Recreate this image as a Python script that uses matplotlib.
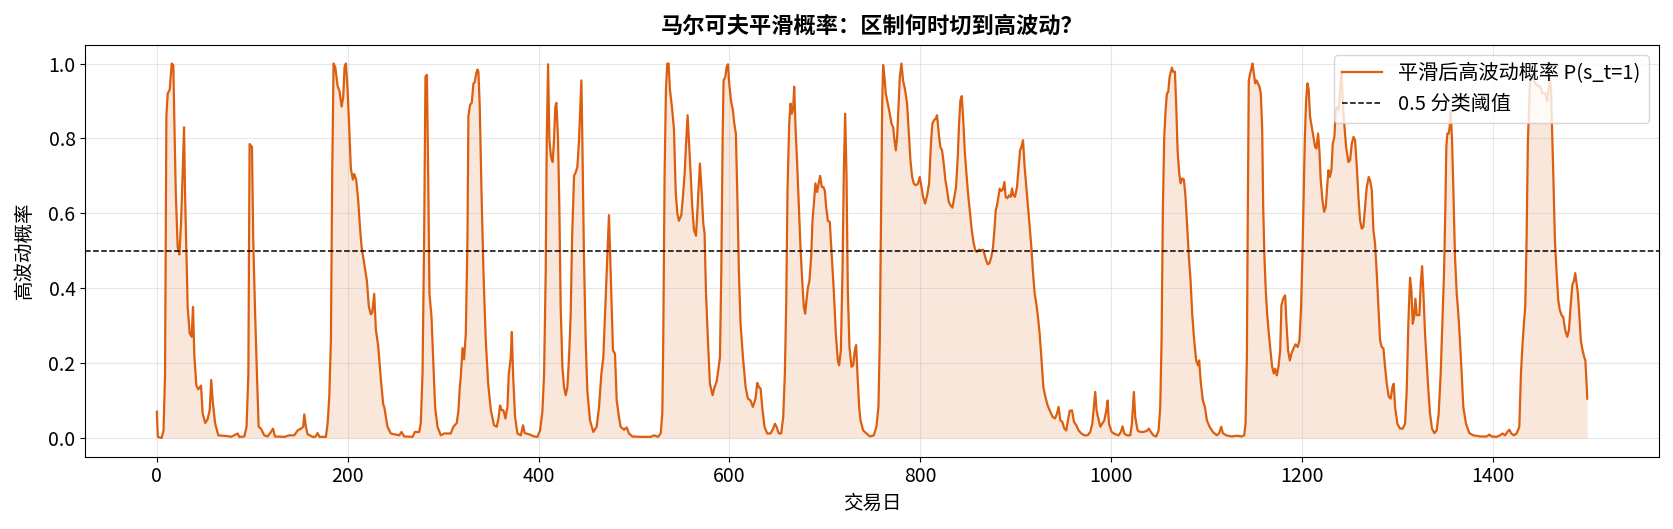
import matplotlib
matplotlib.use("Agg")
import matplotlib.pyplot as plt

plt.rcParams['font.family'] = ['Noto Sans CJK SC', 'DejaVu Sans']
plt.rcParams['axes.unicode_minus'] = False

# 平滑概率曲线，按图读出的 (交易日, 概率) 点
day_a = [0, 1, 5, 7, 8.6, 10, 11.4, 13.5, 15.6, 17.3, 18.4, 19.8, 21.8, 23.6, 25.3, 27.1, 28.5, 29.5, 30.9, 32.3,
         34.4, 36.5, 37.9, 39.3, 41.4, 43.5, 46.3, 48, 50.8, 53.2, 55.4, 57, 58.5, 61, 64.4, 74, 77.7, 81, 84.7, 86.4,
         91.7, 94, 95.9, 97.2, 99.7, 101, 102.8, 104.9, 106.7, 109.1, 112.6, 116, 119.6, 121.7, 123.8, 133.6, 138.8,
         144, 147.5, 151, 153.4, 154.5, 156.2, 158, 163.2, 166, 168.4, 170.5, 177.2, 179, 180.7, 182.4, 183.8, 185.2,
         187, 189.4, 191.5, 193.6, 195.3, 196.7, 198.1, 199.9, 201.6, 203.3, 205.4, 206.8, 208.9, 211, 212.8, 214.6,
         217.3, 220.1, 222.2, 224.3, 225.7, 227.8, 229.5, 232, 234.8, 237.2]
prob_a = [0.07, 0.003, 0.0, 0.02, 0.17, 0.86, 0.92, 0.93, 1.0, 0.995, 0.84, 0.66, 0.51, 0.49, 0.57, 0.71, 0.83, 0.66,
          0.50, 0.35, 0.28, 0.27, 0.35, 0.22, 0.14, 0.13, 0.14, 0.065, 0.04, 0.05, 0.075, 0.155, 0.10, 0.04, 0.007,
          0.005, 0.003, 0.007, 0.012, 0.003, 0.004, 0.03, 0.17, 0.785, 0.777, 0.53, 0.35, 0.17, 0.03, 0.025, 0.007,
          0.004, 0.016, 0.025, 0.004, 0.003, 0.007, 0.007, 0.02, 0.025, 0.03, 0.063, 0.03, 0.01, 0.003, 0.003, 0.013,
          0.003, 0.003, 0.04, 0.11, 0.26, 0.71, 1.0, 0.99, 0.94, 0.925, 0.885, 0.91, 0.99, 1.0, 0.93, 0.83, 0.72, 0.69,
          0.705, 0.69, 0.635, 0.565, 0.51, 0.465, 0.42, 0.35, 0.33, 0.335, 0.385, 0.29, 0.245, 0.155, 0.09]

day_b = [238.3, 241.7, 245.2, 254, 256.4, 259.2, 268, 270.4, 275, 276.6, 278.4, 280.1, 281.5, 283, 284.3, 285.7,
         287.8, 289.5, 291.6, 294.1, 297.6, 301, 304.6, 308, 310.8, 314.3, 316.1, 317.5, 318.5, 320.3, 322, 323.8,
         325.5, 326.5, 328.3, 330, 331.8, 333.2, 334.6, 336, 337, 338.4, 340.2, 342.3, 344.7, 347.2, 350, 353.4, 356.2,
         358, 359.7, 361.4, 363.2, 365.3, 367.4, 368.8, 370.9, 372, 373.3, 375.4, 377.9, 381.4, 383.8, 385.5, 390,
         395.3, 398.8, 401.6, 404, 405.8, 407.5, 408.6, 410, 411.4, 413.1, 414.8, 416.2, 417.6, 418.7, 420.4, 421.8,
         423.2, 425, 426.7, 428.5, 430.2, 432, 433.7, 435.1, 437.2, 439, 440.7, 442.4, 443.8, 444.9, 445.9, 447.6,
         449.4, 451.1, 453.9, 457.4, 460.9, 463.4, 465.8, 467.9, 470, 472.1, 473.8, 475.6, 478, 480.1, 481.9, 484.3]
prob_b = [0.083, 0.03, 0.012, 0.007, 0.016, 0.004, 0.003, 0.016, 0.016, 0.04, 0.17, 0.53, 0.965, 0.97, 0.71, 0.385,
          0.325, 0.215, 0.083, 0.03, 0.007, 0.012, 0.012, 0.012, 0.03, 0.04, 0.074, 0.136, 0.163, 0.24, 0.21, 0.28,
          0.53, 0.86, 0.89, 0.895, 0.947, 0.95, 0.973, 0.984, 0.978, 0.884, 0.66, 0.44, 0.26, 0.145, 0.074, 0.034, 0.03,
          0.052, 0.087, 0.074, 0.074, 0.052, 0.083, 0.17, 0.216, 0.283, 0.17, 0.056, 0.012, 0.007, 0.034, 0.013, 0.01,
          0.004, 0.003, 0.02, 0.07, 0.17, 0.44, 0.795, 0.998, 0.795, 0.75, 0.737, 0.795, 0.884, 0.895, 0.80, 0.617,
          0.35, 0.19, 0.136, 0.114, 0.136, 0.216, 0.332, 0.528, 0.70, 0.71, 0.724, 0.795, 0.884, 0.955, 0.795, 0.484,
          0.26, 0.127, 0.047, 0.016, 0.03, 0.083, 0.17, 0.216, 0.35, 0.484, 0.595, 0.44, 0.234, 0.225, 0.10, 0.056]

day_c = [486, 489.6, 492.4, 494.8, 498.3, 507, 517.5, 521, 525.2, 528, 529.7, 530.7, 532.1, 533.5, 534.9, 536.3,
         537.7, 539.8, 541.9, 543.7, 545.4, 547.1, 549.6, 551.3, 553.1, 554.8, 556.2, 557.6, 559.4, 561.1, 562.9, 565,
         566.7, 568.1, 569.1, 570.9, 572.6, 574, 575.4, 577.5, 579.6, 582.4, 584.5, 586.6, 588.3, 590.1, 591.5, 592.9,
         593.9, 595.7, 597.1, 598.5, 599.8, 601.6, 603.7, 605.1, 606.8, 608.2, 610, 611.7, 614.2, 617, 619.4, 622.2,
         624.6, 627.4, 629.2, 630.9, 632.7, 634.4, 636.8, 639.6, 643.1, 645.9, 647.7, 649.4, 651.8, 654.3, 656.4,
         658.1, 659.5, 660.9, 662.7, 664.1, 665.5, 666.9, 667.9, 669.3, 671, 672.8, 674.5, 676.3, 678, 679.4, 680.8,
         682.2, 683.9, 685.7, 687.1, 688.8, 690.2, 692, 693.7, 695.1, 696.9, 698.6, 700, 701.4, 703.2, 705.2, 707.3,
         709.4, 711.5, 713.6, 715, 716.8, 718.5, 719.9, 721.3, 722.7, 724.1, 725.8, 728, 729.7, 731.4, 732.8, 734.2, 736]
prob_c = [0.03, 0.022, 0.028, 0.012, 0.004, 0.003, 0.003, 0.007, 0.003, 0.012, 0.065, 0.26, 0.706, 0.93, 1.0, 1.0,
          0.93, 0.884, 0.826, 0.66, 0.60, 0.58, 0.595, 0.644, 0.706, 0.795, 0.862, 0.795, 0.706, 0.617, 0.555, 0.54,
          0.617, 0.688, 0.733, 0.66, 0.573, 0.546, 0.394, 0.26, 0.145, 0.114, 0.136, 0.15, 0.18, 0.216, 0.44, 0.795,
          0.955, 0.964, 0.991, 0.998, 0.947, 0.902, 0.875, 0.84, 0.813, 0.66, 0.44, 0.305, 0.216, 0.136, 0.105, 0.10,
          0.083, 0.105, 0.147, 0.136, 0.132, 0.083, 0.03, 0.012, 0.012, 0.025, 0.038, 0.03, 0.012, 0.012, 0.056, 0.17,
          0.35, 0.66, 0.84, 0.893, 0.866, 0.884, 0.938, 0.83, 0.733, 0.617, 0.51, 0.42, 0.35, 0.332, 0.368, 0.40, 0.42,
          0.484, 0.58, 0.635, 0.68, 0.657, 0.68, 0.70, 0.67, 0.67, 0.66, 0.617, 0.58, 0.577, 0.484, 0.394, 0.28, 0.207,
          0.194, 0.234, 0.44, 0.706, 0.866, 0.706, 0.394, 0.243, 0.19, 0.194, 0.234, 0.248, 0.17, 0.083]

day_d = [737.4, 740.2, 743.7, 747.2, 751.3, 754.1, 756.2, 757.6, 759, 760.1, 761.1, 762.5, 763.9, 766, 768.1, 769.8,
         771.6, 773, 774.4, 775.8, 777.2, 778.6, 780.3, 782, 784.1, 786.2, 788, 789.7, 791.5, 793.2, 795, 797.4, 799.5,
         801.3, 803, 805.1, 807.2, 809.3, 811.4, 812.8, 814.5, 816.3, 817.6, 819.4, 821.1, 822.9, 824.6, 826.4, 828.1,
         829.9, 831.6, 833.7, 835.8, 837.5, 839.3, 840.7, 842.1, 843.5, 844.9, 846.6, 848.4, 850.1, 851.9, 854, 856,
         857.8, 859.5, 861.6, 863.7, 865.8, 867.2, 869, 870.7, 872.4, 874.5, 876.3, 877.7, 879.1, 880.5, 881.9, 883.3,
         884.7, 886.4, 888.2, 889.5, 891.3, 893, 894.8, 896.2, 897.6, 899.3, 901.4, 903.2, 904.6, 906, 907.7, 909.4,
         911.2, 912.9, 914.7, 916.4, 918.2, 919.9, 921.6, 923.4, 925.1, 926.9, 929, 931.1, 933.5, 936.3, 938.8, 941.2,
         943.3, 945, 946.8, 948.9, 951, 953, 954.8, 956.5, 959, 961.1, 963.5, 966, 968.4, 971.9, 975.4, 978.2, 980.3,
         982, 983.4, 984.8, 986.6]
prob_d = [0.047, 0.02, 0.012, 0.004, 0.007, 0.03, 0.083, 0.26, 0.617, 0.884, 0.996, 0.964, 0.92, 0.893, 0.866, 0.84,
          0.83, 0.795, 0.768, 0.804, 0.884, 0.964, 1.0, 0.955, 0.93, 0.893, 0.813, 0.742, 0.697, 0.68, 0.675, 0.678,
          0.697, 0.67, 0.644, 0.626, 0.648, 0.68, 0.795, 0.84, 0.849, 0.853, 0.862, 0.813, 0.777, 0.768, 0.733, 0.688,
          0.662, 0.63, 0.622, 0.615, 0.644, 0.67, 0.75, 0.84, 0.902, 0.913, 0.857, 0.768, 0.706, 0.653, 0.608, 0.555,
          0.52, 0.50, 0.497, 0.503, 0.501, 0.503, 0.492, 0.475, 0.464, 0.466, 0.484, 0.51, 0.555, 0.608, 0.622, 0.644,
          0.666, 0.66, 0.662, 0.684, 0.644, 0.64, 0.648, 0.644, 0.666, 0.648, 0.644, 0.67, 0.724, 0.768, 0.777, 0.795,
          0.724, 0.67, 0.617, 0.564, 0.51, 0.44, 0.386, 0.359, 0.323, 0.279, 0.216, 0.136, 0.11, 0.087, 0.07, 0.056,
          0.052, 0.065, 0.083, 0.047, 0.043, 0.025, 0.02, 0.047, 0.072, 0.074, 0.043, 0.034, 0.02, 0.013, 0.007, 0.007,
          0.016, 0.038, 0.083, 0.123, 0.074, 0.052]

day_e = [988.7, 992.9, 995, 996.4, 997.8, 1000.6, 1004.4, 1007.9, 1010.3, 1012, 1013.8, 1016.6, 1020.1, 1021.8,
         1022.9, 1023.9, 1025.3, 1027.8, 1030.6, 1034, 1037.5, 1039.6, 1041.7, 1044.5, 1047.3, 1049.8, 1051.5, 1052.9,
         1054.3, 1055.7, 1057.1, 1058.5, 1059.9, 1061.3, 1062.7, 1063.7, 1065.1, 1066.9, 1068.3, 1069.7, 1071.4,
         1072.8, 1074.5, 1076.3, 1078, 1079.8, 1081.5, 1083.3, 1085, 1087.1, 1089.2, 1091, 1092.3, 1094.1, 1096.2,
         1098.3, 1100.4, 1103.2, 1106.7, 1110.8, 1113.3, 1115.4, 1117.1, 1120.6, 1126.5, 1131.8, 1137, 1139.5, 1140.9,
         1142.3, 1143.3, 1144.3, 1145.7, 1147.1, 1148.2, 1149.6, 1151, 1152.4, 1153.8, 1155.5, 1156.9, 1158.3, 1159.4,
         1160.7, 1162.1, 1163.5, 1165.3, 1167, 1168.8, 1170.5, 1171.9, 1173.7, 1175.4, 1177.2, 1178.5, 1180.3, 1182.4,
         1183.8, 1185.5, 1187.3, 1189, 1191.1, 1193.2, 1195.6, 1197.4, 1199.1, 1200.5, 1201.9, 1203, 1204.4, 1205.8,
         1207.1, 1208.5, 1210.3, 1212, 1213.8, 1215.2, 1216.9, 1218.3, 1219.7, 1221.5, 1223.2, 1225, 1226.4, 1227.8,
         1229.2, 1230.9, 1232.3, 1234, 1235.4, 1237.2, 1238.6, 1240, 1241.4]
prob_e = [0.03, 0.047, 0.074, 0.10, 0.038, 0.016, 0.01, 0.007, 0.016, 0.031, 0.012, 0.007, 0.007, 0.038, 0.083, 0.123,
          0.056, 0.02, 0.016, 0.016, 0.019, 0.025, 0.016, 0.007, 0.004, 0.02, 0.083, 0.26, 0.617, 0.804, 0.875, 0.92,
          0.924, 0.964, 0.978, 0.989, 0.978, 0.978, 0.884, 0.768, 0.706, 0.68, 0.693, 0.69, 0.644, 0.564, 0.484, 0.42,
          0.332, 0.26, 0.207, 0.194, 0.207, 0.145, 0.10, 0.083, 0.047, 0.03, 0.016, 0.007, 0.013, 0.03, 0.013, 0.007,
          0.004, 0.006, 0.004, 0.007, 0.038, 0.216, 0.617, 0.955, 0.973, 0.987, 1.0, 0.973, 0.947, 0.955, 0.947, 0.938,
          0.92, 0.83, 0.617, 0.484, 0.394, 0.332, 0.279, 0.234, 0.19, 0.172, 0.185, 0.167, 0.19, 0.234, 0.354, 0.372,
          0.381, 0.305, 0.234, 0.207, 0.225, 0.239, 0.25, 0.243, 0.26, 0.35, 0.484, 0.662, 0.795, 0.902, 0.947, 0.929,
          0.858, 0.83, 0.804, 0.777, 0.773, 0.813, 0.768, 0.688, 0.635, 0.604, 0.617, 0.67, 0.715, 0.697, 0.715, 0.786,
          0.804, 0.875, 0.884, 0.875, 0.929, 0.978]

day_f = [1243.5, 1246.3, 1248.7, 1250.5, 1252.2, 1254, 1255.7, 1257.5, 1259.2, 1260.9, 1262.7, 1264.4, 1266.2, 1267.9,
         1270, 1271.4, 1273.2, 1274.9, 1276.6, 1278.4, 1280.1, 1281.9, 1283.6, 1285.4, 1287.1, 1288.9, 1291, 1293,
         1294.8, 1296.2, 1297.6, 1300, 1302.8, 1305.6, 1308.1, 1309.8, 1311.5, 1313.3, 1314.7, 1316.1, 1317.5, 1318.9,
         1320.3, 1321.7, 1323.1, 1324.5, 1325.9, 1327.3, 1329, 1330.7, 1332.5, 1334.2, 1336.3, 1338.8, 1341.2, 1343.3,
         1345.4, 1347.1, 1348.9, 1350.3, 1351.3, 1352.4, 1353.8, 1354.8, 1355.9, 1357.3, 1358.7, 1360.4, 1362.2,
         1363.9, 1365.6, 1367.4, 1369.1, 1371.9, 1375.4, 1379.6, 1386.6, 1393.6, 1396.4, 1398.8, 1404, 1407.5, 1410.3,
         1412.8, 1415.2, 1417.3, 1419.4, 1422.2, 1425, 1427.8, 1429.5, 1431, 1432.6, 1434, 1435.4, 1436.8, 1439, 1441,
         1444, 1447, 1449.4, 1452, 1455, 1457, 1459.9, 1461, 1463.4, 1465.1, 1466.9, 1468.6, 1470.3, 1472.1, 1473.8,
         1475.9, 1478, 1479.8, 1481.5, 1483.3, 1485, 1486.4, 1487.8, 1489.2, 1490.6, 1492.3, 1494.1, 1495.8, 1497,
         1498, 1499]
prob_f = [0.866, 0.777, 0.737, 0.742, 0.786, 0.804, 0.795, 0.724, 0.644, 0.581, 0.559, 0.564, 0.617, 0.67, 0.697,
          0.688, 0.662, 0.555, 0.52, 0.44, 0.35, 0.26, 0.243, 0.239, 0.19, 0.145, 0.11, 0.105, 0.136, 0.145, 0.083,
          0.038, 0.025, 0.025, 0.038, 0.127, 0.305, 0.428, 0.394, 0.305, 0.323, 0.372, 0.328, 0.328, 0.328, 0.412,
          0.459, 0.386, 0.279, 0.207, 0.127, 0.065, 0.025, 0.013, 0.02, 0.065, 0.172, 0.305, 0.44, 0.617, 0.777, 0.813,
          0.813, 0.83, 0.875, 0.795, 0.662, 0.484, 0.386, 0.332, 0.26, 0.172, 0.083, 0.038, 0.013, 0.007, 0.004, 0.004,
          0.009, 0.004, 0.003, 0.007, 0.012, 0.007, 0.016, 0.022, 0.012, 0.007, 0.012, 0.03, 0.172, 0.243, 0.305, 0.35,
          0.528, 0.795, 0.95, 0.97, 0.95, 0.94, 0.94, 0.92, 0.92, 0.90, 0.96, 0.93, 0.706, 0.528, 0.44, 0.368, 0.341,
          0.328, 0.323, 0.288, 0.27, 0.288, 0.35, 0.408, 0.42, 0.44, 0.412, 0.386, 0.332, 0.26, 0.234, 0.216, 0.207,
          0.16, 0.105]

day = day_a + day_b + day_c + day_d + day_e + day_f
prob = prob_a + prob_b + prob_c + prob_d + prob_e + prob_f
threshold = 0.5

color = '#dc5e0e'

fig = plt.figure(figsize=(16.73, 5.29), dpi=100)
ax = fig.add_axes([0.051, 0.1367, 0.9405, 0.7786])

ax.plot(day, prob, color=color, lw=1.6, label='平滑后高波动概率 P(s_t=1)')
ax.fill_between(day, 0, prob, color=color, alpha=0.15, lw=0)
ax.axhline(threshold, color='black', ls='--', lw=1.1, label='0.5 分类阈值')

ax.set_title('马尔可夫平滑概率：区制何时切到高波动？', fontsize=16, fontweight='bold', pad=9)
ax.set_xlabel('交易日', fontsize=14)
ax.set_ylabel('高波动概率', fontsize=14, labelpad=10)
ax.tick_params(labelsize=14)
ax.grid(True, alpha=0.3)
ax.legend(loc='upper right', fontsize=14.5)

fig.savefig('out.png', dpi=100)
